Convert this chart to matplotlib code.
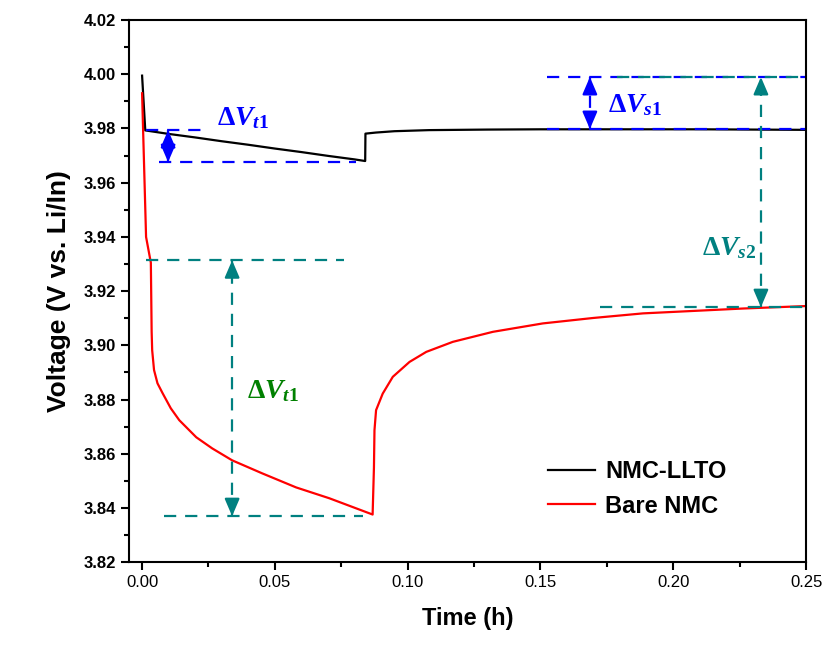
import matplotlib
matplotlib.use('Agg')
import matplotlib.pyplot as plt
from matplotlib.ticker import MultipleLocator, FormatStrFormatter

# NMC-LLTO (black)
t_llto = [0, 0.0012, 0.01, 0.02, 0.03, 0.04, 0.05, 0.06, 0.07, 0.08, 0.0840,
          0.0841, 0.088, 0.095, 0.108, 0.13, 0.15, 0.17, 0.19, 0.21, 0.23, 0.25]
v_llto = [3.9995, 3.9793, 3.9780, 3.9767, 3.9753, 3.9740, 3.9726, 3.9713, 3.9699,
          3.9686, 3.9680, 3.9781, 3.9785, 3.9790, 3.9794, 3.9796, 3.9797, 3.9797,
          3.9797, 3.9797, 3.9796, 3.9795]

# Bare NMC (red)
t_bare = [0, 0.0015, 0.0033, 0.0036, 0.0038, 0.0045, 0.0058, 0.0077, 0.0108,
          0.014, 0.0204, 0.0264, 0.0339, 0.0452, 0.058, 0.0705, 0.0868, 0.0873,
          0.0875, 0.0881, 0.0906, 0.0944, 0.1007, 0.1070, 0.1170, 0.1321, 0.1509,
          0.1698, 0.1886, 0.2075, 0.2264, 0.25]
v_bare = [3.993, 3.940, 3.9305, 3.905, 3.8982, 3.8909, 3.886, 3.8824, 3.8768,
          3.8724, 3.8661, 3.862, 3.8576, 3.8528, 3.8476, 3.8436, 3.8376, 3.855,
          3.8687, 3.8761, 3.8822, 3.8884, 3.8939, 3.8976, 3.9013, 3.9050, 3.9081,
          3.9101, 3.9118, 3.9127, 3.9136, 3.9145]

blue = '#0000FF'
teal = '#008080'
green = '#008000'

plt.rcParams['font.family'] = ['Liberation Sans', 'DejaVu Sans']
plt.rcParams['mathtext.fontset'] = 'custom'
plt.rcParams['mathtext.rm'] = 'Liberation Serif:bold'
plt.rcParams['mathtext.it'] = 'Liberation Serif:bold:italic'
plt.rcParams['mathtext.bf'] = 'Liberation Serif:bold'

fig = plt.figure(figsize=(8.31, 6.47), dpi=100)
ax = fig.add_axes([0.155, 0.131, 0.815, 0.838])

ax.plot(t_llto, v_llto, color='black', lw=1.6, label='NMC-LLTO')
ax.plot(t_bare, v_bare, color='red', lw=1.6, label='Bare NMC')

dash = (5.5, 4)


def hline(y, x0, x1, c):
    ax.plot([x0, x1], [y, y], color=c, lw=1.6, dashes=dash)


def varrow(x, y0, y1, c):
    # dashed shaft with solid filled heads on both ends
    ax.plot([x, x], [y0, y1], color=c, lw=1.6, dashes=dash)
    hl = 0.0055 if abs(y1 - y0) > 0.02 else 0.0045
    for yt, yb in ((y1, y1 - hl), (y0, y0 + hl)):
        ax.annotate('', xy=(x, yt), xytext=(x, yb),
                    arrowprops=dict(arrowstyle='-|>,head_length=0.7,head_width=0.3',
                                    color=c, lw=1.6, shrinkA=0, shrinkB=0,
                                    mutation_scale=15))


# blue, NMC-LLTO transient
hline(3.9794, 0.0015, 0.0241, blue)
hline(3.9676, 0.0064, 0.0807, blue)
varrow(0.0098, 3.9676, 3.9794, blue)
# blue, NMC-LLTO steady
hline(3.999, 0.1523, 0.25, blue)
hline(3.9798, 0.1523, 0.25, blue)
varrow(0.1686, 3.9798, 3.999, blue)
# teal, bare NMC steady
hline(3.999, 0.1787, 0.25, teal)
hline(3.9141, 0.1723, 0.25, teal)
varrow(0.233, 3.9141, 3.999, teal)
# teal, bare NMC transient
hline(3.9314, 0.0015, 0.0762, teal)
hline(3.837, 0.0083, 0.083, teal)
varrow(0.0339, 3.837, 3.9314, teal)

ax.text(0.0283, 3.9813, r'$\Delta V_{\mathit{t1}}$', color=blue, fontsize=20)
ax.text(0.1753, 3.986, r'$\Delta V_{\mathit{s1}}$', color=blue, fontsize=20)
ax.text(0.2108, 3.9333, r'$\Delta V_{\mathit{s2}}$', color=teal, fontsize=20)
ax.text(0.0396, 3.8805, r'$\Delta V_{\mathit{t1}}$', color=green, fontsize=20)

ax.set_xlim(-0.005, 0.25)
ax.set_ylim(3.82, 4.02)
ax.xaxis.set_major_locator(MultipleLocator(0.05))
ax.xaxis.set_minor_locator(MultipleLocator(0.025))
ax.yaxis.set_major_locator(MultipleLocator(0.02))
ax.yaxis.set_minor_locator(MultipleLocator(0.01))
ax.xaxis.set_major_formatter(FormatStrFormatter('%.2f'))
ax.yaxis.set_major_formatter(FormatStrFormatter('%.2f'))
ax.tick_params(which='major', direction='out', length=6, width=1.5, labelsize=12)
ax.tick_params(which='minor', direction='out', length=3.5, width=1.5)
for lab in ax.get_yticklabels():
    lab.set_fontweight('bold')
for s in ax.spines.values():
    s.set_linewidth(1.5)

ax.set_xlabel('Time (h)', fontsize=17, fontweight='bold', labelpad=12)
ax.set_ylabel('Voltage (V vs. Li/In)', fontsize=19, fontweight='bold', labelpad=9)

leg = ax.legend(loc='upper left', bbox_to_anchor=(0.587, 0.228), frameon=False,
                handlelength=2.0, handletextpad=0.45, labelspacing=0.5,
                prop={'size': 17, 'weight': 'bold'})

fig.savefig('out.png', dpi=100)
